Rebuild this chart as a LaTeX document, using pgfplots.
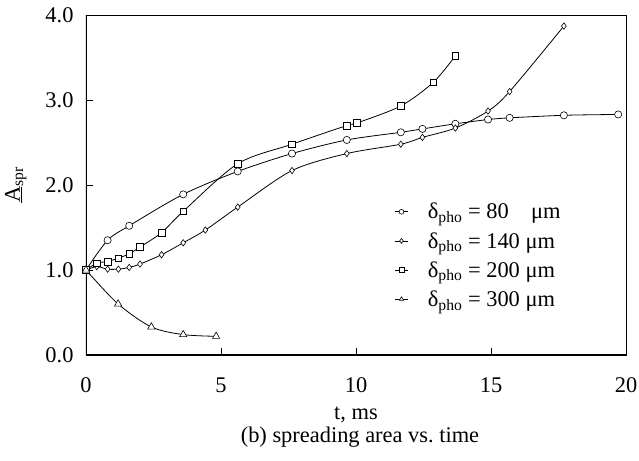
\documentclass[border=0pt]{standalone}
\usepackage{fontspec}
\setmainfont{Liberation Serif}
\usepackage{pgfplots}
\pgfplotsset{compat=1.18}
\begin{document}
\begin{tikzpicture}[font=\fontsize{22.5}{26}\selectfont]
\begin{axis}[
  at={(0,0)}, anchor=south west,
  scale only axis, width=540bp, height=340bp,
  xmin=0, xmax=20, ymin=0, ymax=4,
  xtick={0,5,10,15,20}, ytick={0,1,2,3,4},
  tick pos=left, tick align=inside, major tick length=7bp,
  /pgf/number format/assume math mode=true,
  yticklabel style={/pgf/number format/fixed, /pgf/number format/fixed zerofill, /pgf/number format/precision=1, xshift=-9bp},
  xticklabel style={yshift=-19bp},
  axis line style={line width=0.6pt},
  tick style={line width=0.8pt, black},
  xlabel={t, ms},
  xlabel style={at={(axis description cs:0.5,0)}, anchor=center, yshift=-60bp},
  ylabel={\underline{A}\textsubscript{spr}},
  ylabel style={at={(axis description cs:-0.13,0.5)}, anchor=center},
  legend style={draw=none, fill=none, inner sep=0pt, at={(axis description cs:0.572,0.45)}, anchor=north west, row sep=10bp, font=\fontsize{22.5}{26}\selectfont, nodes={inner sep=1bp}, /tikz/every odd column/.append style={column sep=19bp}},
  legend cell align=left,
  legend image code/.code={\draw[#1, mark repeat=2, mark phase=2, mark size=2.4bp] plot coordinates {(0bp,0bp) (6bp,0bp) (12bp,0bp)};},
]
\addplot[black, line width=0.8pt, smooth, tension=0.5, mark=*, mark size=3.6bp, mark options={fill=white, line width=0.6pt}] coordinates {
(0,1.00) (0.8,1.35) (1.6,1.52) (3.6,1.89) (5.62,2.16) (7.63,2.37) (9.66,2.53) (11.66,2.62) (12.46,2.66) (13.68,2.72) (14.89,2.77) (15.69,2.79) (17.7,2.82) (19.71,2.83)};
\addlegendentry{δ\textsubscript{pho} = 80\hspace{0.75em} μm}
\addplot[black, line width=0.8pt, smooth, tension=0.5, mark=diamond*, mark size=3.2bp, mark options={fill=white, line width=0.6pt}] coordinates {
(0,1.00) (0.4,1.04) (0.8,1.01) (1.2,1.01) (1.6,1.03) (2.0,1.07) (2.8,1.18) (3.6,1.32) (4.42,1.47) (5.62,1.74) (7.63,2.17) (9.66,2.37) (11.66,2.48) (12.46,2.56) (13.68,2.67) (14.89,2.87) (15.69,3.10) (17.7,3.87)};
\addlegendentry{δ\textsubscript{pho} = 140 μm}
\addplot[black, line width=0.8pt, smooth, tension=0.5, mark=square*, mark size=3.3bp, mark options={fill=white, line width=0.6pt}] coordinates {
(0,1.00) (0.4,1.08) (0.8,1.10) (1.2,1.14) (1.6,1.19) (2.0,1.27) (2.8,1.44) (3.6,1.69) (5.62,2.25) (7.63,2.48) (9.66,2.70) (10.04,2.73) (11.66,2.93) (12.87,3.21) (13.68,3.52)};
\addlegendentry{δ\textsubscript{pho} = 200 μm}
\addplot[black, line width=0.8pt, smooth, tension=0.5, mark=triangle*, mark size=4.2bp, mark options={fill=white, line width=0.6pt}] coordinates {
(0,1.00) (1.19,0.60) (2.42,0.33) (3.6,0.24) (4.82,0.22)};
\addlegendentry{δ\textsubscript{pho} = 300 μm}
\draw[line width=1.4pt] (rel axis cs:0,1) -- (rel axis cs:0,0) -- (rel axis cs:1,0);
\end{axis}
\node at (274bp,-82bp) {(b) spreading area vs.\ time};
\pgfresetboundingbox
\useasboundingbox (-86bp,-106bp) rectangle (553bp,355bp);
\end{tikzpicture}
\end{document}
